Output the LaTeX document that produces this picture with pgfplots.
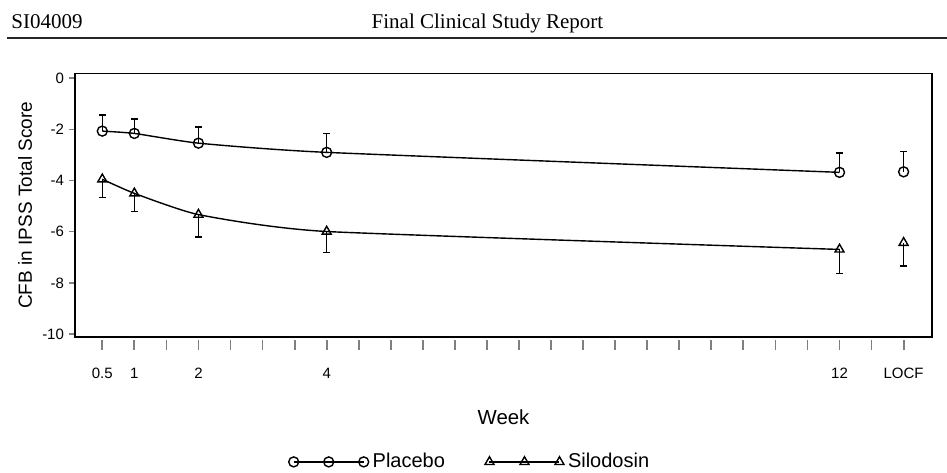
\documentclass[border=0pt]{standalone}
\usepackage{pgfplots}
\pgfplotsset{compat=1.18}
\usepackage{fontspec}
\setmainfont{Liberation Sans}
\newfontfamily\headfont{Liberation Serif}

\begin{document}
\begin{tikzpicture}
\path[use as bounding box] (0,0) rectangle (473.5pt,236pt);

% report header
\node[anchor=base west, inner sep=0pt, font=\headfont\fontsize{10.5}{12}\selectfont] at (5.5pt,221.5pt) {SI04009};
\node[anchor=base, inner sep=0pt, font=\headfont\fontsize{10.5}{12}\selectfont] at (243.75pt,221.5pt) {Final Clinical Study Report};
\draw[line width=1pt, black!85] (3.5pt,217.2pt) -- (473.5pt,217.2pt);

\begin{axis}[
	at={(37.5pt,67.5pt)}, anchor=south west,
	scale only axis, width=428.5pt, height=131.75pt,
	xmin=0.074, xmax=13.443,
	ymin=-10.11, ymax=0.18,
	axis line style={line width=0.9pt},
	tick align=outside,
	xtick pos=bottom, ytick pos=left,
	xtick={0.5,1,...,13},
	xticklabels={0.5,1,{},2,{},{},{},4,{},{},{},{},{},{},{},{},{},{},{},{},{},{},{},12,{},LOCF},
	ytick={-10,-8,-6,-4,-2,0},
	yticklabels={-10,-8,-6,-4,-2,0},
	major tick length=3pt,
	major x tick style={line width=0.9pt, yshift=-1.5pt, /pgfplots/major tick length=5pt},
	major y tick style={line width=0.7pt},
	ticklabel style={font=\fontsize{7.5}{9}\selectfont},
	yticklabel style={xshift=1pt},
	xticklabel style={yshift=-9pt},
	xlabel={Week},
	xlabel style={at={(axis description cs:0.5,-0.3025)}, anchor=center, font=\fontsize{10.2}{12}\selectfont},
	ylabel={CFB in IPSS Total Score},
	ylabel style={at={(axis description cs:-0.0583,0.5)}, anchor=center, font=\fontsize{9.5}{11}\selectfont},
	legend columns=2,
	legend style={at={(axis description cs:0.462,-0.474)}, anchor=center, draw=none, fill=none,
		font=\fontsize{10}{12}\selectfont, /tikz/every even column/.append style={column sep=18pt}},
	legend image code/.code={\draw[mark repeat=1,#1] plot coordinates {(0pt,0pt) (17.5pt,0pt) (35pt,0pt)};},
	]

	% Placebo: mean and upper SE
	\addplot[black, line width=0.7pt, mark=o, mark size=2.5pt, mark options={solid}, smooth, tension=0.3,
		error bars/.cd, y dir=plus, y explicit,
		error bar style={line width=0.7pt},
		error mark options={rotate=90, black, mark size=1.6pt, line width=0.7pt}]
		table[x=x, y=y, y error=e] {
		x    y      e
		0.5  -2.07  0.63
		1    -2.16  0.57
		2    -2.54  0.63
		4    -2.90  0.73
		12   -3.68  0.76
	};
	\addlegendentry{Placebo}
	\addplot[black, line width=0.7pt, only marks, mark=o, mark size=2.5pt, forget plot,
		error bars/.cd, y dir=plus, y explicit,
		error bar style={line width=0.7pt},
		error mark options={rotate=90, black, mark size=1.6pt, line width=0.7pt}]
		table[x=x, y=y, y error=e] {
		x    y      e
		13   -3.66  0.79
	};

	% Silodosin: mean and lower SE
	\addplot[black, line width=0.7pt, mark=triangle, mark size=2.6pt, mark options={solid}, smooth, tension=0.3,
		error bars/.cd, y dir=minus, y explicit,
		error bar style={line width=0.7pt},
		error mark options={rotate=90, black, mark size=1.6pt, line width=0.7pt}]
		table[x=x, y=y, y error=e] {
		x    y      e
		0.5  -3.95  0.71
		1    -4.50  0.70
		2    -5.33  0.87
		4    -5.99  0.83
		12   -6.69  0.94
	};
	\addlegendentry{Silodosin}
	\addplot[black, line width=0.7pt, only marks, mark=triangle, mark size=2.6pt, forget plot,
		error bars/.cd, y dir=minus, y explicit,
		error bar style={line width=0.7pt},
		error mark options={rotate=90, black, mark size=1.6pt, line width=0.7pt}]
		table[x=x, y=y, y error=e] {
		x    y      e
		13   -6.43  0.91
	};

\end{axis}
\end{tikzpicture}
\end{document}
